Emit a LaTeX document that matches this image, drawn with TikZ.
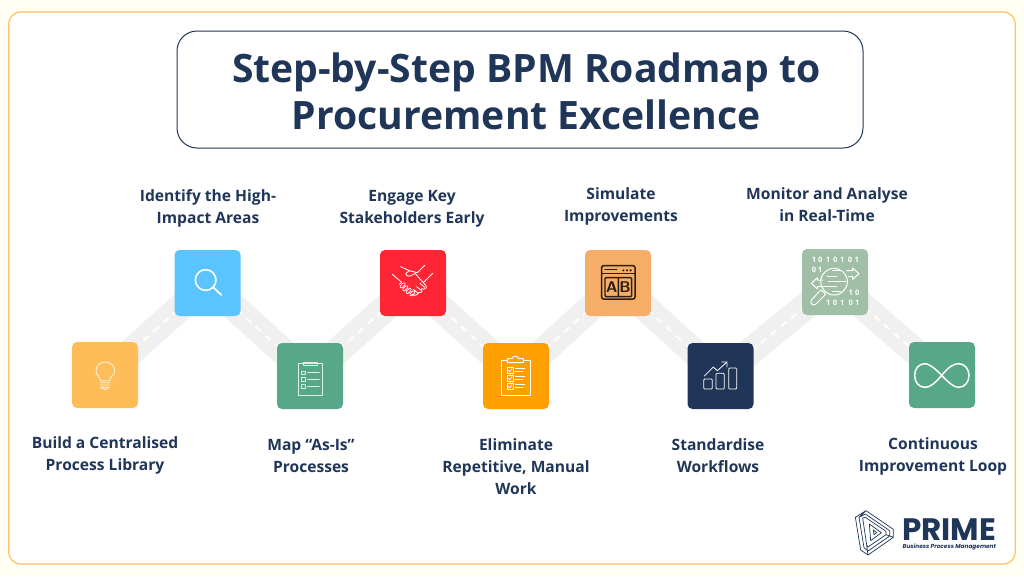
\documentclass[tikz,border=0pt]{standalone}
\usepackage{fontspec}
\setmainfont{Open Sans}
\newfontfamily\logofont{Poppins}
\pgfdeclarelayer{bgl}
\pgfdeclarelayer{bandl}
\pgfsetlayers{bgl,bandl,main}
\definecolor{navy}{HTML}{203658}
\definecolor{pagebg}{HTML}{FFFFF4}
\definecolor{edgeor}{HTML}{FFC266}
\definecolor{bandgray}{HTML}{F0F0F0}
\definecolor{dashcream}{HTML}{FFFEF0}
\definecolor{cbulb}{HTML}{FFBD59}
\definecolor{csearch}{HTML}{5AC4FC}
\definecolor{cgreen}{HTML}{57A888}
\definecolor{cred}{HTML}{FF2535}
\definecolor{corange}{HTML}{FF9F00}
\definecolor{cab}{HTML}{F5AD68}
\definecolor{cmon}{HTML}{A0BFA6}
\definecolor{abink}{HTML}{2B1E10}
\tikzset{
  x=1pt,y=-1pt,
  tile/.style={minimum size=66pt,inner sep=0pt,outer sep=0pt,rounded corners=5pt,fill=#1,draw=none},
  lab/.style={text=navy,align=center,inner sep=0pt,font=\fontsize{15.6}{22}\selectfont\bfseries},
  bandline/.style={line width=27pt,bandgray},
  dashline/.style={line width=2.2pt,dashcream,dash pattern=on 7pt off 6pt},
  ic/.style={draw=white,line width=#1,line cap=round,line join=round},
  ic/.default=1pt,
  zoomA/.style={shift={(60,240)},xscale=1/3,yscale=1/3},
  zoomB/.style={shift={(370,240)},xscale=1/3,yscale=1/3},
  zoomC/.style={shift={(680,240)},xscale=1/3,yscale=1/3},
  zoomD/.style={shift={(840,500)},xscale=1/3,yscale=1/3}
}
\begin{document}
\begin{tikzpicture}
\useasboundingbox (0,0) rectangle (1024,576);
\begin{pgfonlayer}{bgl}
\fill[pagebg] (0,0) rectangle (1024,576);
\draw[edgeor,fill=white,line width=1.3pt,rounded corners=12pt] (8.7,12) rectangle (1015.3,564);
\end{pgfonlayer}
% title
\node[draw=navy,line width=1pt,rounded corners=20pt,minimum width=686pt,minimum height=117pt,inner sep=0pt] (titlebox) at (520,89.5) {};
\node[text=navy,align=center,inner sep=0pt,font=\fontsize{39.1}{47}\selectfont\bfseries] (title) at (526.3,91) {Step-by-Step BPM Roadmap to\\Procurement Excellence};
% tiles
\node[tile=cbulb] (s1) at (105,375) {};
\node[tile=csearch] (s2) at (207.5,283) {};
\node[tile=cgreen] (s3) at (310,376) {};
\node[tile=cred] (s4) at (413,283) {};
\node[tile=corange] (s5) at (516,376) {};
\node[tile=cab] (s6) at (618,283) {};
\node[tile=navy] (s7) at (720.5,376) {};
\node[tile=cmon] (s8) at (835,282) {};
\node[tile=cgreen] (s9) at (942,375) {};
% connectors
\begin{pgfonlayer}{bandl}
\foreach \a/\b in {s1/s2,s2/s3,s3/s4,s4/s5,s5/s6,s6/s7,s7/s8,s8/s9}{
  \draw[bandline] (\a.center) -- (\b.center);
}
\foreach \a/\b in {s1/s2,s2/s3,s3/s4,s4/s5,s5/s6,s6/s7,s7/s8,s8/s9}{
  \draw[dashline] (\a.center) -- (\b.center);
}
\end{pgfonlayer}
% labels
\node[lab] (l1) at (105,455.5) {Build a Centralised\\Process Library};
\node[lab] (l2) at (208,208.5) {Identify the High-\\Impact Areas};
\node[lab] (l3) at (311,455.5) {Map “As-Is”\\Processes};
\node[lab] (l4) at (412,209) {Engage Key\\Stakeholders Early};
\node[lab] (l5) at (516,466.5) {Eliminate\\Repetitive, Manual\\Work};
\node[lab] (l6) at (621,206.5) {Simulate\\Improvements};
\node[lab] (l7) at (718,455.5) {Standardise\\Workflows};
\node[lab] (l8) at (827,205) {Monitor and Analyse\\in Real-Time};
\node[lab] (l9) at (933,456) {Continuous\\Improvement Loop};
% bulb
\begin{scope}[zoomA]
\draw[ic=0.8pt,draw=white!85!cbulb] (122,422) .. controls (118,408) and (108,405) .. (108,392) .. controls (108,376) and (122,366) .. (136,366) .. controls (150,366) and (164,376) .. (164,392) .. controls (164,405) and (152,408) .. (148,422) -- cycle;
\draw[ic=0.8pt,draw=white!85!cbulb] (120,428) -- (150,428) (120,435) -- (150,435) (122,442) -- (148,442) -- (135,449) -- cycle;
% search
\draw[ic=1.6pt] (437,120) circle (31);
\draw[ic=1.8pt] (460,142) -- (484,165);
% list
\draw[ic=0.8pt,draw=white!80!cgreen] (715,371) rectangle (788,466) (730,366) rectangle (771,377);
\foreach \yy in {398,418,439}{
  \draw[ic=0.8pt,draw=white!80!cgreen] (724,\yy-5) rectangle (735,\yy+5);
  \draw[ic=0.8pt,draw=white!80!cgreen] (743,\yy) -- (778,\yy);
}
\end{scope}
\begin{scope}[zoomB]
% hands
\draw[ic=0.8pt] (67,103) -- (95,127) (188,100) -- (160,128) (92,80) -- (118,92) (164,76) -- (142,98);
\draw[ic=0.8pt] (118,92) -- (142,98) (118,92) -- (107,101) .. controls (110,110) and (120,112) .. (135,100) -- (168,137) .. controls (172,146) and (162,150) .. (155,146) (95,127) -- (88,133);
\draw[ic=0.8pt] (150,130) -- (164,142) (140,140) -- (155,152) (130,148) -- (145,160);
\draw[ic=0.8pt] (155,146) .. controls (160,158) and (148,160) .. (145,158) .. controls (145,166) and (130,168) .. (125,163);
\foreach \cx/\cy in {98/136,106/145,116/153,127/160}{
  \draw[ic=0.8pt,rounded corners=1pt,rotate around={45:(\cx,\cy)}] (\cx-9,\cy-4) rectangle (\cx+9,\cy+4);
}
% clipboard
\draw[ic=0.9pt] (412,360) -- (393,360) -- (393,465) -- (482,465) -- (482,360) -- (460,360);
\draw[ic=0.9pt] (412,356) -- (426,356) .. controls (428,346) and (444,346) .. (446,356) -- (460,356) -- (460,368) -- (412,368) -- cycle;
\foreach \yy in {382,406,430}{
  \draw[ic=0.8pt] (411,\yy) rectangle (429,\yy+18);
  \draw[ic=0.7pt] (415,\yy+9) -- (419,\yy+14) -- (426,\yy+4);
  \draw[ic=0.9pt] (436,\yy+2) -- (465,\yy+2) (436,\yy+12) -- (459,\yy+12);
}
% AB
\draw[abink,line width=1.5pt,rounded corners=2pt] (695,77) rectangle (795,177);
\draw[abink,line width=1.5pt] (695,101) -- (795,101);
\draw[abink,line width=1.5pt,line cap=round] (705,88) -- (740,88);
\fill[abink] (760,91) circle (3.5) (771,91) circle (3.5) (782,91) circle (3.5);
\draw[abink,line width=1.4pt,rounded corners=1pt] (705,113) rectangle (785,170) (745,113) -- (745,170);
\node[text=abink,inner sep=0pt,font=\sffamily\bfseries\fontsize{15.5}{15}\selectfont] (abA) at (725.5,141) {A};
\node[text=abink,inner sep=0pt,font=\sffamily\bfseries\fontsize{15.5}{15}\selectfont] (abB) at (765,141) {B};
\end{scope}
\begin{scope}[zoomC]
% chart
\draw[ic=0.8pt,rounded corners=1pt] (71,417) rectangle (97,447) (108,400) rectangle (133,447) (146,384) rectangle (170,447);
\draw[ic=0.8pt] (73,408) -- (100,381) -- (112,392) -- (141,366) (125,366) -- (141,366) -- (141,381);
% monitor
\draw[ic=1pt] (462,125) circle (40);
\draw[ic=1pt] (433,158) -- (422,150) -- (394,180) .. controls (388,190) and (400,200) .. (408,192) -- (436,164) -- cycle;
\draw[ic=1pt] (500,92) -- (518,92) -- (518,84) -- (537,101) -- (518,118) -- (518,110) -- (505,110);
\draw[ic=1pt] (428,120) -- (412,120) -- (412,113) -- (394,130) -- (412,147) -- (412,140) -- (425,140);
\draw[ic=1pt] (458,92) -- (480,92) (442,108) -- (470,108) (445,123) -- (497,123) (428,140) -- (470,140) (458,155) -- (480,155);
\foreach \tx/\ty/\bitv/\nn in {402/60/1/a,421/60/0/b,444/60/1/c,466/60/0/d,487/60/1/e,510/60/0/f,530/60/1/g,402/90/0/h,420/90/1/i,512/157/1/j,532/157/0/k,465/187/0/l,487/187/1/m,512/187/0/n,532/187/1/o,445/187/1/p}{
  \node[text=white,inner sep=0pt,font=\fontsize{7.5}{8}\selectfont\bfseries] (bit\nn) at (\tx,\ty) {\bitv};
}
% infinity
\draw[ic=1.5pt] (785,406) .. controls (760,380) and (745,371) .. (735,371) .. controls (715,371) and (704,388) .. (704,406) .. controls (704,425) and (715,442) .. (735,442) .. controls (750,442) and (765,430) .. (785,406) .. controls (805,382) and (820,371) .. (836,371) .. controls (855,371) and (867,388) .. (867,406) .. controls (867,425) and (855,442) .. (836,442) .. controls (822,442) and (808,430) .. (785,406) -- cycle;
\end{scope}
% logo
\begin{scope}[zoomD]
\draw[navy,line width=0.7pt,line join=round]
 (46,52) -- (78,32) -- (160,88) -- (160,112) -- (84,165) -- (62,150) -- cycle
 (57,52) -- (76,42) -- (149,92) -- (149,108) -- (84,153) -- (72,143) -- cycle
 (68,54) -- (76,52) -- (138,94) -- (138,104) -- (84,141) -- (80,135) -- cycle
 (88,72) -- (124,98) -- (92,122) -- cycle
 (100,90) -- (110,98) -- (102,104) -- cycle
 (78,32) -- (57,52) (160,112) -- (138,104) (84,165) -- (80,135);
\end{scope}
\node[text=navy,inner sep=0pt,anchor=base west,font=\logofont\fontsize{31}{31}\selectfont\bfseries] (logo) at (902,540) {PRIME};
\node[text=navy,inner sep=0pt,anchor=base west,font=\logofont\fontsize{5.8}{6}\selectfont\bfseries\itshape] (logosub) at (902.5,548.5) {Business Process Management};
\end{tikzpicture}
\end{document}
